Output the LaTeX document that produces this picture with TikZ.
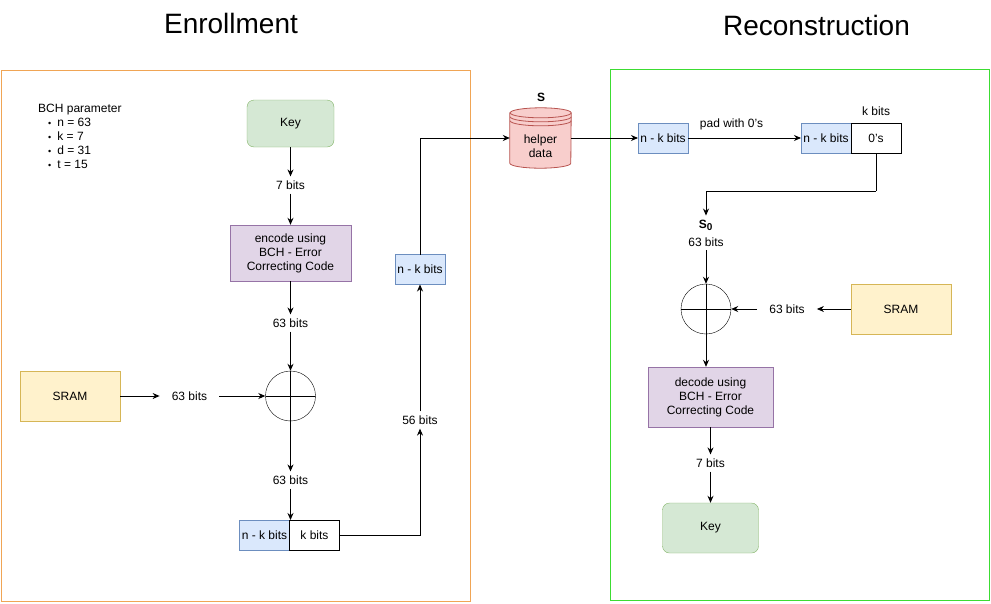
\documentclass[tikz,border=0pt]{standalone}
\usepackage{fontspec}
\setmainfont{Liberation Sans}
\usetikzlibrary{positioning, arrows.meta}
\definecolor{keyfill}{HTML}{D5E8D4}
\definecolor{keyline}{HTML}{82B366}
\definecolor{codefill}{HTML}{E1D5E7}
\definecolor{codeline}{HTML}{9673A6}
\definecolor{sramfill}{HTML}{FFF2CC}
\definecolor{sramline}{HTML}{D6B656}
\definecolor{nkfill}{HTML}{DAE8FC}
\definecolor{nkline}{HTML}{6C8EBF}
\definecolor{storefill}{HTML}{F8CECC}
\definecolor{storeline}{HTML}{B85450}
\definecolor{enrollcolor}{RGB}{240, 165, 85}
\definecolor{recocolor}{RGB}{60, 220, 50}
\newcommand{\bchitem}{\hspace*{10pt}{\fontsize{9}{9}\selectfont\textbullet}\hspace{6pt}}

\begin{document}
\begin{tikzpicture}[
    x=1pt, y=-1pt,
    font=\fontsize{12}{14}\selectfont,
    keybox/.style={rectangle, draw=keyline, fill=keyfill, rounded corners=7pt, minimum width=87pt, minimum height=47pt},
    codebox/.style={rectangle, draw=codeline, fill=codefill, align=center, minimum width=121pt, minimum height=56pt, inner sep=1pt},
    srambox/.style={rectangle, draw=sramline, fill=sramfill, minimum width=100pt, minimum height=50pt},
    nkbox/.style={rectangle, draw=nkline, fill=nkfill, minimum width=50pt, minimum height=30pt, inner sep=0pt, outer sep=0pt},
    kbox/.style={rectangle, draw, fill=white, minimum width=50pt, minimum height=30pt, inner sep=0pt, outer sep=0pt},
    xor/.style={circle, draw, minimum size=50pt, inner sep=0pt,
        path picture={\draw (path picture bounding box.north) -- (path picture bounding box.south)
                            (path picture bounding box.west) -- (path picture bounding box.east);}},
    bits/.style={inner xsep=12pt, inner ysep=4pt},
    store/.style={rectangle, minimum width=61pt, minimum height=60pt, inner sep=0pt},
    frame/.style={rectangle, line width=1pt},
    title/.style={font=\fontsize{28}{34}\selectfont},
    arrow/.style={-{Stealth[length=7pt, width=6pt]}, line width=0.9pt},
    line/.style={line width=0.9pt},
]
\useasboundingbox (0,0) rectangle (991,603);

% ============ frames and titles ============
\draw[frame, draw=enrollcolor] (1,70) rectangle (470,601);
\draw[frame, draw=recocolor] (610.5,69) rectangle (989,600);
\node[title] (t_enroll) at (231,23) {Enrollment};
\node[title] (t_reco) at (816.5,25) {Reconstruction};

\node[anchor=north west, align=left, inner sep=0pt] (bch) at (38,104)
    {BCH parameter\\
     \bchitem n = 63\\
     \bchitem k = 7\\
     \bchitem d = 31\\
     \bchitem t = 15};

% ============ Enrollment ============
\node[keybox] (key_e) at (290.5,123.5) {Key};
\node[bits] (b7_e) at (290.5,185) {7 bits};
\node[codebox] (encode) at (290.5,253) {encode using\\BCH - Error\\Correcting Code};
\node[bits] (b63_e) at (290.5,323) {63 bits};
\node[xor] (xor_e) at (290.5,396) {};
\node[srambox] (sram_e) at (70,396) {SRAM};
\node[bits] (b63_sram_e) at (189.5,396) {63 bits};
\node[bits] (b63_out_e) at (290.5,480) {63 bits};
\node[nkbox] (nk_e) at (264.5,535) {n - k bits};
\node[kbox, right=0pt of nk_e] (k_e) {k bits};
\node[bits] (b56) at (420,420) {56 bits};
\node[nkbox] (nk_s) at (420,269.5) {n - k bits};

% ============ helper data ============
\node[store] (helper) at (540.5,138) {};
\draw[draw=storeline, fill=storefill, line width=0.8pt]
    ([yshift=-5pt]helper.north west) -- ([yshift=5pt]helper.south west)
    arc[start angle=180, end angle=360, x radius=30.5pt, y radius=5pt]
    -- ([yshift=-5pt]helper.north east)
    arc[start angle=0, end angle=180, x radius=30.5pt, y radius=5pt] -- cycle;
\draw[draw=storeline, line width=0.8pt]
    ([yshift=-5pt]helper.north east) arc[start angle=0, end angle=-180, x radius=30.5pt, y radius=5pt]
    ([yshift=-9pt]helper.north east) arc[start angle=0, end angle=-180, x radius=30.5pt, y radius=5pt]
    ([yshift=-13pt]helper.north east) arc[start angle=0, end angle=-180, x radius=30.5pt, y radius=5pt];
\node[align=center, inner sep=0pt] (helper_txt) at (540.5,146) {helper\\data};
\node[font=\fontsize{12}{14}\selectfont\bfseries] (s_lbl) at (541,97) {S};

% ============ Reconstruction ============
\node[nkbox] (nk_r) at (663,138) {n - k bits};
\node[nkbox] (nk_p) at (826,138) {n - k bits};
\node[kbox, right=0pt of nk_p] (zeros) {0's};
\node[above=4pt of zeros] (k_lbl) {k bits};
\coordinate (bend) at (zeros.south |- 0,191);
\node[align=center, inner ysep=4pt, font=\fontsize{12}{18}\selectfont] (s0) at (706,233)
    {\textbf{S\textsubscript{\fontsize{10}{10}\selectfont 0}}\\63 bits};
\node[xor] (xor_r) at (706,309) {};
\node[srambox] (sram_r) at (901,309) {SRAM};
\node[bits] (b63_sram_r) at (787,309) {63 bits};
\node[codebox, minimum width=125pt, minimum height=60pt] (decode) at (710.5,397) {decode using\\BCH - Error\\Correcting Code};
\node[bits] (b7_r) at (710.5,463) {7 bits};
\node[keybox, minimum width=96pt, minimum height=50pt] (key_r) at (710.5,528) {Key};

% ============ arrows ============
\draw[arrow] (key_e) -- (b7_e);
\draw[arrow] (b7_e) -- (encode);
\draw[arrow] (encode) -- (b63_e);
\draw[arrow] (b63_e) -- (xor_e);
\draw[arrow] (sram_e) -- (b63_sram_e);
\draw[arrow] (b63_sram_e) -- (xor_e);
\draw[arrow] (xor_e) -- (b63_out_e);
\draw[arrow] (b63_out_e) -- (b63_out_e |- k_e.north);
\draw[arrow] (k_e.east) -| (b56.south);
\draw[arrow] (b56) -- (nk_s);
\draw[arrow] (nk_s.north) |- (helper.west);
\draw[arrow] (helper.east) -- (nk_r.west);
\draw[arrow] (nk_r) -- node[pos=0.385, above=4pt, name=pad] {pad with 0's} (nk_p);
\draw[line] (zeros.south) -- (bend);
\draw[arrow] (bend) -| (s0.north);
\draw[arrow] (s0) -- (xor_r);
\draw[arrow] (sram_r) -- (b63_sram_r);
\draw[arrow] (b63_sram_r) -- (xor_r);
\draw[arrow] (xor_r.south) -- (xor_r.south |- decode.north);
\draw[arrow] (decode) -- (b7_r);
\draw[arrow] (b7_r) -- (key_r);

\end{tikzpicture}
\end{document}
